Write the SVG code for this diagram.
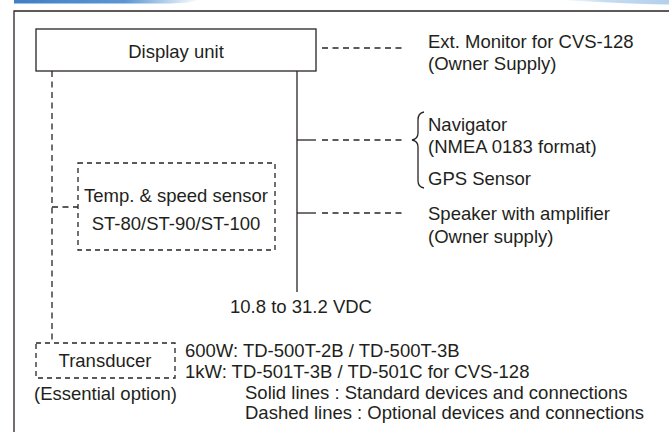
<svg xmlns="http://www.w3.org/2000/svg" width="669" height="432" viewBox="0 0 669 432">
<defs>
<linearGradient id="gl" x1="0" y1="0" x2="1" y2="0">
<stop offset="0" stop-color="#3f7fc6"/>
<stop offset="0.6" stop-color="#5d97d2"/>
<stop offset="1" stop-color="#ffffff"/>
</linearGradient>
<linearGradient id="gr" x1="0" y1="0" x2="1" y2="0">
<stop offset="0" stop-color="#ffffff"/>
<stop offset="0.4" stop-color="#c6dcf1"/>
<stop offset="1" stop-color="#b3d0ec"/>
</linearGradient>
<style>
text{font-family:"Liberation Sans",Arial,sans-serif;font-size:18.5px;fill:#231f20}
.solid{fill:none;stroke:#2b2424;stroke-width:1.3}
.dash{fill:none;stroke:#2b2424;stroke-width:1.3;stroke-dasharray:6 4.5}
.dbox{fill:none;stroke:#2b2424;stroke-width:1.3;stroke-dasharray:5 4}
.mid{text-anchor:middle}
</style>
</defs>
<rect width="669" height="432" fill="#ffffff"/>
<path d="M14 0 H200 Q190 3 170 3.5 H14 Z" fill="url(#gl)"/>
<path d="M560 0 H669 V4.5 Q640 4 600 2 Q575 1 560 0 Z" fill="url(#gr)"/>
<path class="solid" d="M14 432 V11 H669" stroke-width="1.6"/>
<g id="connectors">
<path class="dash" d="M322 48 H406"/>
<path class="dash" d="M52 71 V343"/>
<path class="solid" d="M297 71 V292"/>
<path class="solid" d="M297 140 H316"/>
<path class="dash" d="M322 140 H406"/>
<path class="solid" d="M297 213 H316"/>
<path class="dash" d="M322 213 H406"/>
<path class="dash" d="M52 207 H78"/>
<path class="solid" d="M424 112 Q418 113 418 120 V133 Q418 139 412 140 Q418 141 418 147 V181 Q418 187 424 188"/>
</g>
<g id="display-unit">
<rect class="solid" x="36" y="29" width="280" height="42"/>
<text class="mid" x="176" y="58">Display unit</text>
</g>
<g id="ext-monitor">
<text x="428" y="48">Ext. Monitor for CVS-128</text>
<text x="428" y="70">(Owner Supply)</text>
</g>
<g id="navigator">
<text x="428" y="131">Navigator</text>
<text x="428" y="153">(NMEA 0183 format)</text>
</g>
<g id="gps-sensor">
<text x="428" y="185">GPS Sensor</text>
</g>
<g id="speaker">
<text x="428" y="220">Speaker with amplifier</text>
<text x="428" y="243">(Owner supply)</text>
</g>
<g id="temp-sensor">
<rect class="dbox" x="78" y="163" width="197" height="87"/>
<text class="mid" x="176" y="202">Temp. &amp; speed sensor</text>
<text class="mid" x="176" y="230">ST-80/ST-90/ST-100</text>
</g>
<g id="power">
<text class="mid" x="301" y="313">10.8 to 31.2 VDC</text>
</g>
<g id="transducer">
<rect class="dbox" x="36" y="343" width="139" height="35"/>
<text class="mid" x="105" y="367">Transducer</text>
<text x="185" y="357">600W: TD-500T-2B / TD-500T-3B</text>
<text x="185" y="378">1kW: TD-501T-3B / TD-501C for CVS-128</text>
<text x="34" y="400">(Essential option)</text>
</g>
<g id="legend">
<text x="245" y="399">Solid lines : Standard devices and connections</text>
<text x="245" y="419">Dashed lines : Optional devices and connections</text>
</g>
</svg>
